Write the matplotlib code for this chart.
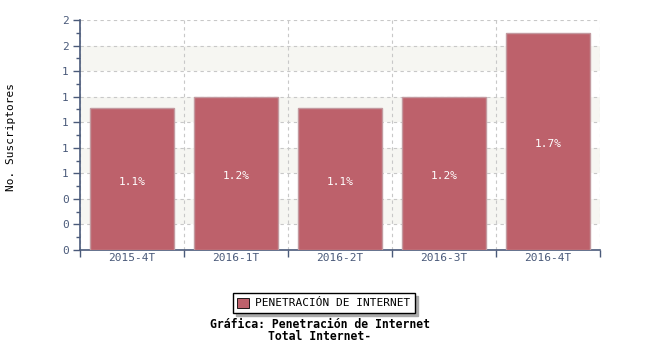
import matplotlib.pyplot as plt
from matplotlib.ticker import MultipleLocator, FuncFormatter

# datos de la grafica
periodos = ['2015-4T', '2016-1T', '2016-2T', '2016-3T', '2016-4T']
penetracion = [1.11, 1.2, 1.11, 1.2, 1.7]
etiquetas = ['1.1%', '1.2%', '1.1%', '1.2%', '1.7%']

color_barra = '#bd616b'
color_eje = '#4a5a7a'
fuente = 'DejaVu Sans Mono'

fig = plt.figure(figsize=(6.5, 3.5), dpi=100)
ax = fig.add_axes([80/650, 100/350, 520/650, 230/350])

ymax = 1.8
# bandas alternas de fondo
for y0 in [0.2, 0.6, 1.0, 1.4]:
    ax.axhspan(y0, y0 + 0.2, color='#f6f6f2', zorder=0, lw=0)

x = list(range(len(periodos)))
bars = ax.bar(x, penetracion, width=0.81, color=color_barra,
              edgecolor='#c39aa0', linewidth=1, zorder=3)
for xi, v, t in zip(x, penetracion, etiquetas):
    ax.text(xi, v / 2 - 0.02, t, ha='center', va='center', color='white',
            fontsize=8, family=fuente, zorder=4)

ax.set_xlim(-0.5, len(periodos) - 0.5)
ax.set_ylim(0, ymax)

ax.yaxis.set_major_locator(MultipleLocator(0.2))
ax.yaxis.set_minor_locator(MultipleLocator(0.1))
ax.yaxis.set_major_formatter(FuncFormatter(lambda v, p: '%.0f' % v))
ax.set_xticks(x)
ax.set_xticklabels(periodos)
ax.set_xticks([i - 0.5 for i in range(len(periodos) + 1)], minor=True)
ax.tick_params(axis='x', which='major', length=0, pad=2)
ax.tick_params(axis='x', which='minor', length=5, color=color_eje, width=1)
ax.tick_params(axis='y', which='major', length=5, color=color_eje, width=1, pad=3)
ax.tick_params(axis='y', which='minor', length=3, color=color_eje, width=1)
for lab in ax.get_xticklabels() + ax.get_yticklabels():
    lab.set_fontsize(8)
    lab.set_family(fuente)
    lab.set_color(color_eje)

# rejilla punteada
ax.grid(True, which='major', axis='y', color='#c8c8c8', linestyle=(0, (3, 3)), lw=0.8, zorder=1)
for xb in [i - 0.5 for i in range(len(periodos) + 1)]:
    ax.axvline(xb, color='#c8c8c8', linestyle=(0, (3, 3)), lw=0.8, zorder=1)

for s in ['top', 'right']:
    ax.spines[s].set_visible(False)
for s in ['left', 'bottom']:
    ax.spines[s].set_color(color_eje)
    ax.spines[s].set_linewidth(1.2)

fig.text(11/650, 1 - 137/350, 'No. Suscriptores', rotation=90, ha='center', va='center',
         fontsize=8, family=fuente, color='black')

# leyenda
leg = fig.legend([bars[0]], ['PENETRACIÓN DE INTERNET'], loc='center',
                 bbox_to_anchor=(324/650, 1 - 303/350), frameon=True, fancybox=False,
                 shadow={'color': '#aaaaaa', 'alpha': 1}, edgecolor='black',
                 prop={'family': fuente, 'size': 8}, handlelength=1.0, handleheight=1.0,
                 borderpad=0.4, handletextpad=0.6)
leg.get_frame().set_linewidth(1)
leg.legend_handles[0].set_edgecolor('black')
leg.legend_handles[0].set_linewidth(0.6)

fig.text(320/650, 1 - 324/350, 'Gráfica: Penetración de Internet', ha='center', va='center',
         fontsize=8.3, weight='bold', family=fuente)
fig.text(320/650, 1 - 337/350, 'Total Internet-', ha='center', va='center',
         fontsize=8.3, weight='bold', family=fuente)

fig.savefig('out.png', dpi=100)
